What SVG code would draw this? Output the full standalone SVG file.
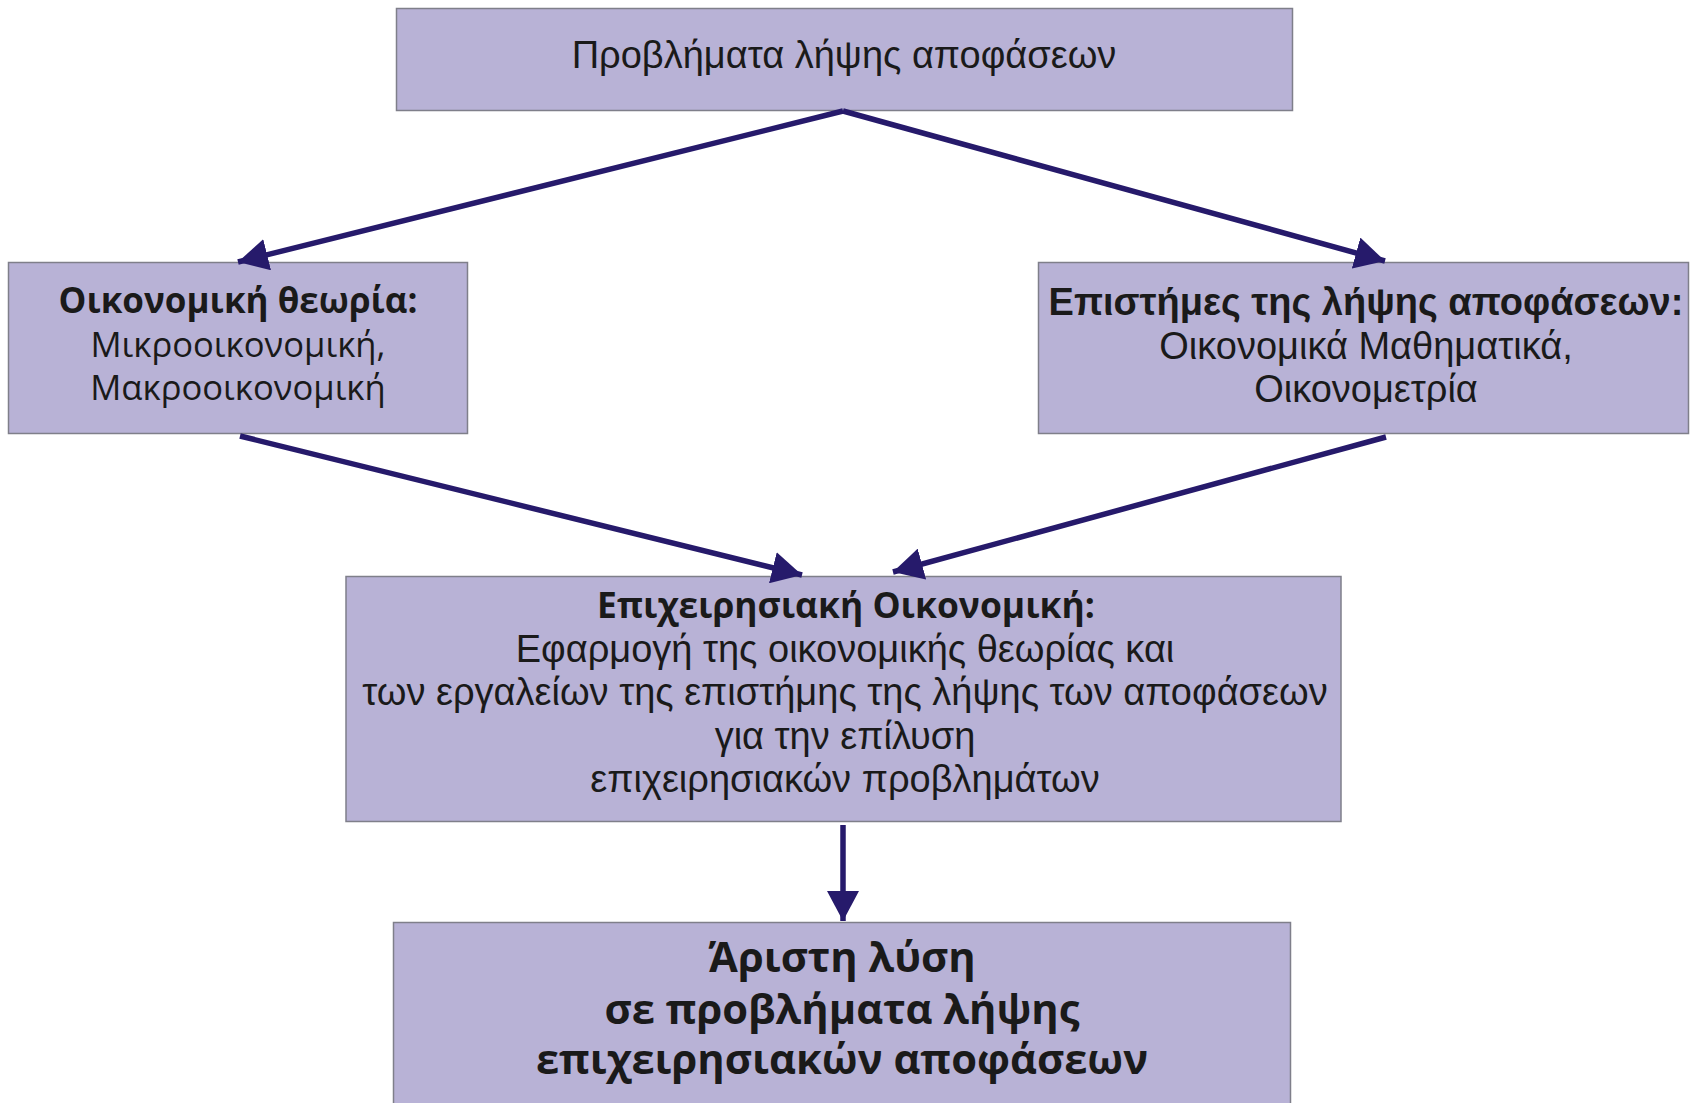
<svg xmlns="http://www.w3.org/2000/svg" width="1694" height="1103" viewBox="0 0 1694 1103">
<defs>
<marker id="ah" markerUnits="userSpaceOnUse" markerWidth="32" markerHeight="32" refX="30" refY="16" orient="auto">
<path d="M0,0 L30,16 L0,32 z" fill="#261a6b"/>
</marker>
</defs>
<style>
.box{fill:#b8b2d6;stroke:#7f7f8a;stroke-width:1.5}
.t{font-family:"Liberation Sans",Arial,sans-serif;font-size:38px;fill:#1a1a1a;text-anchor:middle}
.tb{font-family:"Liberation Sans",Arial,sans-serif;font-size:38px;font-weight:bold;fill:#1a1a1a;text-anchor:middle}
.m{font-family:"Open Sans","Noto Sans",sans-serif;font-size:34.6px;fill:#1a1a1a;text-anchor:middle}
.mb{font-family:"Open Sans","Noto Sans",sans-serif;font-size:35px;font-weight:bold;fill:#1a1a1a;text-anchor:middle}
.mb2{font-family:"Open Sans","Noto Sans",sans-serif;font-size:35.4px;font-weight:bold;fill:#1a1a1a;text-anchor:middle}
.big{font-family:"Open Sans","Noto Sans",sans-serif;font-size:41.7px;font-weight:bold;fill:#1a1a1a;text-anchor:middle}
.c{stroke:#261a6b;stroke-width:5.5;fill:none;marker-end:url(#ah)}
</style>
<rect width="1694" height="1103" fill="#ffffff"/>
<g id="n-top">
<rect class="box" x="396.5" y="8.5" width="896" height="102"/>
<text class="t" x="844" y="68">Προβλήματα λήψης αποφάσεων</text>
</g>
<g id="n-left">
<rect class="box" x="8.5" y="262.5" width="459" height="171"/>
<text class="mb" x="238" y="313">Οικονομική θεωρία:</text>
<text class="m" x="238" y="357">Μικροοικονομική,</text>
<text class="m" x="238" y="400">Μακροοικονομική</text>
</g>
<g id="n-right">
<rect class="box" x="1038.5" y="262.5" width="650" height="171"/>
<text class="tb" x="1366" y="315">Επιστήμες της λήψης αποφάσεων:</text>
<text class="t" x="1366" y="359">Οικονομικά Μαθηματικά,</text>
<text class="t" x="1366" y="402">Οικονομετρία</text>
</g>
<g id="n-mid">
<rect class="box" x="346" y="576.5" width="995" height="245"/>
<text class="mb2" x="846" y="618">Επιχειρησιακή Οικονομική:</text>
<text class="t" x="845" y="662">Εφαρμογή της οικονομικής θεωρίας και</text>
<text class="t" x="845" y="705">των εργαλείων της επιστήμης της λήψης των αποφάσεων</text>
<text class="t" x="845" y="749">για την επίλυση</text>
<text class="t" x="845" y="792">επιχειρησιακών προβλημάτων</text>
</g>
<g id="n-bottom">
<rect class="box" x="393.5" y="922.5" width="897" height="185"/>
<text class="big" x="842" y="972">Άριστη λύση</text>
<text class="big" x="842" y="1024">σε προβλήματα λήψης</text>
<text class="big" x="842" y="1074">επιχειρησιακών αποφάσεων</text>
</g>
<g id="connectors">
<line class="c" x1="843" y1="111" x2="238" y2="262"/>
<line class="c" x1="843" y1="111" x2="1385" y2="261"/>
<line class="c" x1="240" y1="436" x2="802" y2="575"/>
<line class="c" x1="1386" y1="437" x2="893" y2="572"/>
<line class="c" x1="843" y1="825" x2="843" y2="921"/>
</g>
</svg>
